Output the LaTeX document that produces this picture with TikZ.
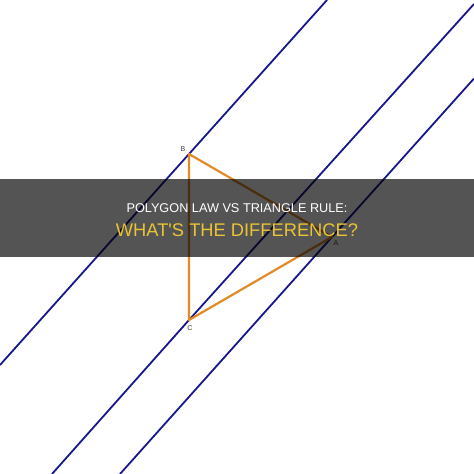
\documentclass[tikz,border=0pt]{standalone}
\usepackage{fontspec}
\setmainfont{Liberation Sans}
\definecolor{navyline}{RGB}{24,24,140}
\definecolor{orangeline}{RGB}{226,138,38}
\definecolor{titleyellow}{RGB}{234,196,52}
\definecolor{labelgray}{RGB}{60,60,60}
\tikzset{
  parline/.style={draw=navyline, line width=1.8pt},
  triside/.style={draw=orangeline, line width=2.2pt, line join=round},
  vlabel/.style={text=labelgray, font=\fontsize{7}{8}\selectfont, inner sep=0pt},
  banner/.style={fill=black, fill opacity=0.67, draw=none},
  titleone/.style={text=white, font=\fontsize{12.7}{14}\selectfont, anchor=base, inner sep=0pt},
  titletwo/.style={text=titleyellow, font=\fontsize{18.3}{20}\selectfont, anchor=base, inner sep=0pt}
}
\begin{document}
\begin{tikzpicture}[x=1pt, y=-1pt]
\useasboundingbox (0,0) rectangle (474,474);
\fill[white] (0,0) rectangle (474,474);
% vertices
\coordinate (B) at (189,154);
\coordinate (C) at (189,320);
\coordinate (A) at (332,237);
% free ends of the parallel lines
\coordinate (b1) at (0,365);
\coordinate (b2) at (327,0);
\coordinate (c1) at (52,474);
\coordinate (c2) at (474,4);
\coordinate (a1) at (120,474);
\coordinate (a2) at (474,78.5);
\draw[parline] (b1) -- (B) -- (b2);
\draw[parline] (c1) -- (C) -- (c2);
\draw[parline] (a1) -- (A) -- (a2);
\draw[triside] (B) -- (A) -- (C) -- cycle;
\node[vlabel] (lB) at (183,149) {B};
\node[vlabel] (lC) at (190,328.5) {C};
\node[vlabel] (lA) at (336,243) {A};
\fill[banner] (0,179) rectangle (474,257);
\node[titleone] (t1) at (237,212) {POLYGON LAW VS TRIANGLE RULE:};
\node[titletwo] (t2) at (237,236) {WHAT\textquotesingle S THE DIFFERENCE?};
\end{tikzpicture}
\end{document}
